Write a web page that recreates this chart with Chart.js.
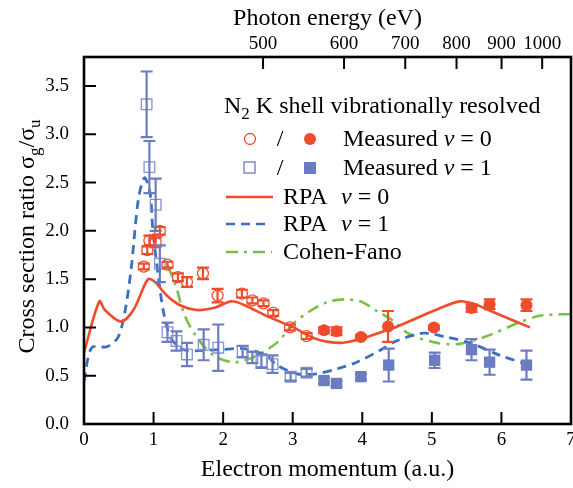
<!DOCTYPE html>
<html>
<head>
<meta charset="utf-8">
<script src="https://cdn.jsdelivr.net/npm/chart.js@4.4.1/dist/chart.umd.min.js"></script>
<style>
  html, body { margin: 0; padding: 0; background: #fff; }
</style>
</head>
<body>
<canvas id="chart" width="573" height="488"></canvas>
<script>
// measured ratios, v = 0 (open: below 3.3 a.u., filled: above)
var v0OpenK    = [0.86, 0.91, 0.94, 1.03, 1.09, 1.20, 1.35, 1.48, 1.71, 1.92, 2.27, 2.42, 2.58, 2.72, 2.96, 3.20];
var v0OpenR    = [1.63, 1.80, 1.90, 1.88, 2.00, 1.65, 1.52, 1.47, 1.56, 1.33, 1.35, 1.28, 1.25, 1.15, 1.00, 0.91];
var v0OpenErr  = [0.03, 0.04, 0.05, 0.05, 0.04, 0.03, 0.04, 0.05, 0.06, 0.07, 0.04, 0.03, 0.03, 0.03, 0.03, 0.03];
var v0FillK    = [3.45, 3.63, 3.98, 4.37, 5.03, 5.57, 5.83, 6.36];
var v0FillR    = [0.97, 0.96, 0.90, 1.01, 1.00, 1.20, 1.24, 1.23];
var v0FillErr  = [0.03, 0.04, 0.02, 0.16, 0.02, 0.04, 0.05, 0.06];

// measured ratios, v = 1
var v1OpenK    = [0.90, 0.94, 1.03, 1.09, 1.20, 1.33, 1.48, 1.72, 1.93, 2.28, 2.42, 2.55, 2.71, 2.97, 3.20];
var v1OpenR    = [3.31, 2.66, 2.27, 1.66, 0.95, 0.86, 0.72, 0.82, 0.79, 0.75, 0.69, 0.65, 0.62, 0.49, 0.53];
var v1OpenErr  = [0.34, 0.27, 0.27, 0.19, 0.10, 0.10, 0.12, 0.16, 0.24, 0.06, 0.06, 0.07, 0.09, 0.04, 0.04];
var v1FillK    = [3.45, 3.63, 3.98, 4.38, 5.04, 5.57, 5.83, 6.36];
var v1FillR    = [0.45, 0.42, 0.49, 0.61, 0.66, 0.77, 0.64, 0.61];
var v1FillErr  = [0.03, 0.03, 0.03, 0.17, 0.08, 0.11, 0.13, 0.15];

// theory curves
var rpa0K = [0, 0.22, 0.30, 0.53, 0.71, 0.92, 1.02, 1.19, 1.38, 1.62, 1.86, 2.12, 2.31, 2.62, 3.01, 3.34, 3.68, 3.97, 4.35, 4.54, 5.02, 5.40, 5.62, 5.88, 6.41];
var rpa0R = [0.74, 1.27, 1.18, 1.06, 1.18, 1.50, 1.47, 1.33, 1.23, 1.18, 1.20, 1.27, 1.23, 1.12, 1.00, 0.88, 0.84, 0.88, 0.97, 1.02, 1.17, 1.27, 1.24, 1.16, 1.00];
var rpa1K = [0, 0.11, 0.33, 0.49, 0.59, 0.68, 0.78, 0.87, 0.95, 0.99, 1.07, 1.14, 1.24, 1.36, 1.48, 1.95, 2.29, 2.62, 2.77, 3.06, 3.34, 3.63, 3.92, 4.25, 4.49, 4.88, 5.21, 5.55, 5.98, 6.36];
var rpa1R = [0.44, 0.79, 0.80, 0.90, 1.17, 1.62, 2.32, 2.55, 2.39, 2.00, 1.52, 1.17, 0.90, 0.80, 0.76, 0.77, 0.78, 0.71, 0.61, 0.52, 0.52, 0.57, 0.64, 0.76, 0.86, 0.94, 0.90, 0.84, 0.71, 0.62];
var cfK   = [1.20, 1.31, 1.45, 1.62, 1.86, 2.15, 2.43, 2.77, 3.01, 3.25, 3.49, 3.73, 3.97, 4.21, 4.44, 4.68, 5.07, 5.40, 5.79, 6.22, 6.55, 7.00];
var cfR   = [1.64, 1.45, 1.12, 0.90, 0.71, 0.64, 0.69, 0.84, 1.04, 1.17, 1.26, 1.29, 1.27, 1.17, 1.07, 0.93, 0.84, 0.83, 0.91, 1.04, 1.12, 1.14];

// top axis labels
var photonEnergies = [500, 600, 700, 800, 900, 1000];
var yTicks = [0, 0.5, 1, 1.5, 2, 2.5, 3, 3.5];

var RED = '#ee4d2c';
var BLUE_PT = '#6c7cc0';
var BLUE_LN = '#3b6fc1';
var GREEN = '#79c145';
var SERIF = '"Liberation Serif", "Times New Roman", serif';

// photoelectron momentum (a.u.) for a photon energy, N2 K-shell IP ~409.9 eV
function momentumOf(e) {
    return Math.sqrt(2 * (e - 409.9) / 27.211);
}

function pts(xs, ys) {
    return xs.map(function (x, i) { return { x: x, y: ys[i] }; });
}

var errorBars = {
    id: 'errorBars',
    afterDatasetsDraw: function (chart) {
        var ctx = chart.ctx, xs = chart.scales.x, ys = chart.scales.y;
        chart.data.datasets.forEach(function (ds) {
            if (!ds.errors) return;
            ctx.save();
            ctx.strokeStyle = ds.barColor;
            ctx.lineWidth = 2.2;
            ds.data.forEach(function (p, j) {
                var px = xs.getPixelForValue(p.x);
                var top = ys.getPixelForValue(p.y + ds.errors[j]);
                var bot = ys.getPixelForValue(p.y - ds.errors[j]);
                ctx.beginPath();
                ctx.moveTo(px, top); ctx.lineTo(px, bot);
                ctx.moveTo(px - 6, top); ctx.lineTo(px + 6, top);
                ctx.moveTo(px - 6, bot); ctx.lineTo(px + 6, bot);
                ctx.stroke();
            });
            ctx.restore();
        });
    }
};

// frame, inward ticks and the rotated y title
var frame = {
    id: 'frame',
    afterDraw: function (chart) {
        var ctx = chart.ctx, a = chart.chartArea;
        ctx.save();
        ctx.strokeStyle = '#000';
        ctx.lineWidth = 2;
        ctx.beginPath();
        chart.scales.x.ticks.forEach(function (t) {
            var px = chart.scales.x.getPixelForValue(t.value);
            ctx.moveTo(px, a.bottom); ctx.lineTo(px, a.bottom - 12);
        });
        chart.scales.x2.ticks.forEach(function (t) {
            var px = chart.scales.x2.getPixelForValue(t.value);
            ctx.moveTo(px, a.top); ctx.lineTo(px, a.top + 12);
        });
        chart.scales.y.ticks.forEach(function (t) {
            var py = chart.scales.y.getPixelForValue(t.value);
            ctx.moveTo(a.left, py); ctx.lineTo(a.left + 12, py);
        });
        ctx.stroke();
        ctx.lineWidth = 2.6;
        ctx.strokeRect(a.left, a.top, a.right - a.left, a.bottom - a.top);

        // y title with subscripts
        ctx.translate(34, (a.top + a.bottom) / 2 - 4);
        ctx.rotate(-Math.PI / 2);
        ctx.fillStyle = '#000';
        var parts = [['Cross section ratio σ', 24, 0], ['g', 17, 6], ['/σ', 24, 0], ['u', 17, 6]];
        var w = 0;
        parts.forEach(function (p) { ctx.font = p[1] + 'px ' + SERIF; w += ctx.measureText(p[0]).width; });
        var x = -w / 2;
        parts.forEach(function (p) {
            ctx.font = p[1] + 'px ' + SERIF;
            ctx.fillText(p[0], x, p[2]);
            x += ctx.measureText(p[0]).width;
        });
        ctx.restore();
    }
};

function drawRuns(ctx, x, y, runs) {
    runs.forEach(function (r) {
        ctx.font = (r.italic ? 'italic ' : '') + (r.size || 24) + 'px ' + SERIF;
        ctx.fillText(r.t, x, y + (r.dy || 0));
        x += ctx.measureText(r.t).width;
    });
}

var legendBox = {
    id: 'legendBox',
    afterDraw: function (chart) {
        var ctx = chart.ctx;
        ctx.save();
        ctx.fillStyle = '#000';
        ctx.textBaseline = 'alphabetic';
        drawRuns(ctx, 224, 113, [{ t: 'N' }, { t: '2', size: 17, dy: 6 }, { t: ' K shell vibrationally resolved' }]);

        // measured markers
        ctx.lineWidth = 1.3;
        ctx.strokeStyle = RED;
        ctx.beginPath(); ctx.arc(250, 139, 5.5, 0, 2 * Math.PI); ctx.stroke();
        ctx.fillStyle = RED;
        ctx.beginPath(); ctx.arc(310, 139, 6, 0, 2 * Math.PI); ctx.fill();
        ctx.strokeStyle = BLUE_PT;
        ctx.strokeRect(244, 162, 11, 11);
        ctx.fillStyle = BLUE_PT;
        ctx.fillRect(304, 162, 12, 12);

        ctx.fillStyle = '#000';
        ctx.textAlign = 'center';
        ctx.font = '24px ' + SERIF;
        ctx.fillText('/', 280, 146);
        ctx.fillText('/', 280, 175);
        ctx.textAlign = 'left';
        drawRuns(ctx, 343, 146, [{ t: 'Measured ' }, { t: 'v', italic: true }, { t: ' = 0' }]);
        drawRuns(ctx, 343, 175, [{ t: 'Measured ' }, { t: 'v', italic: true }, { t: ' = 1' }]);

        // theory line samples
        ctx.lineWidth = 2.6;
        ctx.strokeStyle = RED;
        ctx.beginPath(); ctx.moveTo(226, 197); ctx.lineTo(273, 197); ctx.stroke();
        ctx.strokeStyle = BLUE_LN;
        ctx.setLineDash([9, 6]);
        ctx.beginPath(); ctx.moveTo(226, 224); ctx.lineTo(268, 224); ctx.stroke();
        ctx.strokeStyle = GREEN;
        ctx.setLineDash([12, 6, 3, 6]);
        ctx.beginPath(); ctx.moveTo(226, 252); ctx.lineTo(272, 252); ctx.stroke();
        ctx.setLineDash([]);

        drawRuns(ctx, 283, 204, [{ t: 'RPA' }]);
        drawRuns(ctx, 341, 204, [{ t: 'v', italic: true }, { t: ' = 0' }]);
        drawRuns(ctx, 283, 231, [{ t: 'RPA' }]);
        drawRuns(ctx, 341, 231, [{ t: 'v', italic: true }, { t: ' = 1' }]);
        drawRuns(ctx, 283, 259, [{ t: 'Cohen-Fano' }]);
        ctx.restore();
    }
};

var tickFont = { family: SERIF, size: 19 };
var titleFont = { family: SERIF, size: 24 };

// keep the plot box fixed: no extra room for overhanging edge labels
function noSidePad(s) {
    s.paddingLeft = 0;
    s.paddingRight = 0;
}

new Chart(document.getElementById('chart'), {
    type: 'scatter',
    data: {
        datasets: [
            {
                label: 'RPA v = 0', type: 'line', data: pts(rpa0K, rpa0R),
                borderColor: RED, borderWidth: 2.6, pointRadius: 0, tension: 0.3, fill: false, order: 3
            },
            {
                label: 'RPA v = 1', type: 'line', data: pts(rpa1K, rpa1R),
                borderColor: BLUE_LN, borderWidth: 2.8, borderDash: [9, 6], pointRadius: 0, tension: 0.3, fill: false, order: 3
            },
            {
                label: 'Cohen-Fano', type: 'line', data: pts(cfK, cfR),
                borderColor: GREEN, borderWidth: 2.6, borderDash: [12, 6, 3, 6], pointRadius: 0, tension: 0.3, fill: false, order: 3
            },
            {
                label: 'Measured v = 0 (open)', data: pts(v0OpenK, v0OpenR), errors: v0OpenErr, barColor: RED,
                pointStyle: 'circle', pointRadius: 5.5, borderColor: RED, borderWidth: 1.3, backgroundColor: 'rgba(0,0,0,0)', order: 1
            },
            {
                label: 'Measured v = 0', data: pts(v0FillK, v0FillR), errors: v0FillErr, barColor: RED,
                pointStyle: 'circle', pointRadius: 6, borderWidth: 0, backgroundColor: RED, order: 1
            },
            {
                label: 'Measured v = 1 (open)', data: pts(v1OpenK, v1OpenR), errors: v1OpenErr, barColor: BLUE_PT,
                pointStyle: 'rect', pointRadius: 7.5, borderColor: '#8593cf', borderWidth: 1.3, backgroundColor: 'rgba(0,0,0,0)', order: 2
            },
            {
                label: 'Measured v = 1', data: pts(v1FillK, v1FillR), errors: v1FillErr, barColor: BLUE_PT,
                pointStyle: 'rect', pointRadius: 8, borderWidth: 0, backgroundColor: BLUE_PT, order: 2
            }
        ]
    },
    options: {
        responsive: false,
        animation: false,
        layout: { autoPadding: false, padding: { left: 0, right: 2, top: 0, bottom: 0 } },
        plugins: { legend: { display: false }, tooltip: { enabled: false } },
        scales: {
            x: {
                type: 'linear', position: 'bottom', min: 0, max: 7,
                grid: { display: false }, border: { display: false },
                ticks: { stepSize: 1, color: '#000', font: tickFont, padding: -3, maxRotation: 0 },
                title: { display: true, text: 'Electron momentum (a.u.)', color: '#000', font: titleFont, padding: { top: 0, bottom: 4 } },
                afterFit: function (s) { s.height = 64; noSidePad(s); }
            },
            x2: {
                type: 'linear', position: 'top', min: 0, max: 7,
                grid: { display: false }, border: { display: false },
                afterBuildTicks: function (s) {
                    s.ticks = photonEnergies.map(function (e) { return { value: momentumOf(e) }; });
                },
                ticks: {
                    autoSkip: false, color: '#000', font: tickFont, padding: -6, maxRotation: 0,
                    callback: function (v, i) { return String(photonEnergies[i]); }
                },
                title: { display: true, text: 'Photon energy (eV)', color: '#000', font: titleFont, padding: { top: 4, bottom: 0 } },
                afterFit: function (s) { s.height = 57; noSidePad(s); }
            },
            y: {
                type: 'linear', min: 0, max: 3.8,
                grid: { display: false }, border: { display: false },
                afterBuildTicks: function (s) {
                    s.ticks = yTicks.map(function (v) { return { value: v }; });
                },
                ticks: {
                    color: '#000', font: tickFont, padding: 7,
                    callback: function (v) { return v.toFixed(1); }
                },
                afterFit: function (s) { s.width = 84; s.paddingTop = 0; s.paddingBottom = 0; }
            }
        }
    },
    plugins: [errorBars, frame, legendBox]
});
</script>
</body>
</html>
